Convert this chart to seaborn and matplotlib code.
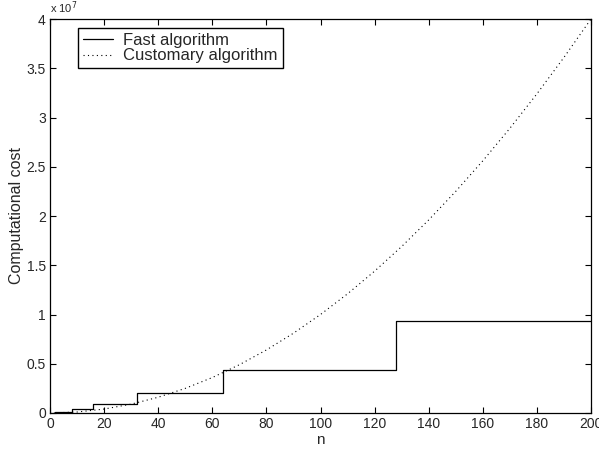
import numpy as np
import pandas as pd
import matplotlib
matplotlib.use("Agg")
import matplotlib.pyplot as plt
import seaborn as sns

# Fast algorithm: cost levels between successive power-of-two breakpoints
fast_n = [1, 2, 4, 8, 16, 32, 64, 128, 200]
fast_cost = [0.02e6, 0.06e6, 0.15e6, 0.41e6, 0.91e6, 2.0e6, 4.33e6, 9.34e6, 9.34e6]

# Customary algorithm: cost sampled along n
cust_n = [0, 10, 20, 30, 40, 50, 60, 70, 80, 90, 100, 110, 120, 130, 140,
          150, 160, 170, 180, 190, 200]
cust_cost = [0.0, 0.1e6, 0.4e6, 0.9e6, 1.6e6, 2.5e6, 3.6e6, 4.9e6, 6.4e6,
             8.1e6, 10.0e6, 12.1e6, 14.4e6, 16.9e6, 19.6e6, 22.5e6, 25.6e6,
             28.9e6, 32.4e6, 36.1e6, 40.0e6]

x_ticks = [0, 20, 40, 60, 80, 100, 120, 140, 160, 180, 200]
y_ticks = [0, 0.5e7, 1e7, 1.5e7, 2e7, 2.5e7, 3e7, 3.5e7, 4e7]
y_tick_labels = ["0", "0.5", "1", "1.5", "2", "2.5", "3", "3.5", "4"]

sns.set_style("ticks")
plt.rcParams["font.family"] = ["Liberation Sans", "DejaVu Sans"]
plt.rcParams["xtick.direction"] = "in"
plt.rcParams["ytick.direction"] = "in"

fast_df = pd.DataFrame({"n": fast_n, "cost": fast_cost})
cust_df = pd.DataFrame({"n": cust_n, "cost": cust_cost})

fig = plt.figure(figsize=(5.99, 4.51), dpi=100)
ax = fig.add_axes([50 / 599, 38 / 451, 541 / 599, 394 / 451])

sns.lineplot(data=fast_df, x="n", y="cost", ax=ax, color="black",
             linewidth=0.9, drawstyle="steps-post", label="Fast algorithm")
sns.lineplot(data=cust_df, x="n", y="cost", ax=ax, color="black",
             linewidth=0.8, linestyle=(0, (1, 3)), label="Customary algorithm")

ax.set_xlim(0, 200)
ax.set_ylim(0, 4e7)
ax.set_xticks(x_ticks)
ax.set_xticklabels([str(v) for v in x_ticks], fontsize=10)
ax.set_yticks(y_ticks)
ax.set_yticklabels(y_tick_labels, fontsize=10)
ax.tick_params(axis="both", which="both", top=True, right=True,
               length=4, width=0.8, color="black", pad=3)
for side in ["left", "right", "top", "bottom"]:
    ax.spines[side].set_visible(True)
    ax.spines[side].set_linewidth(0.9)
    ax.spines[side].set_color("black")

ax.set_xlabel("n", fontsize=11, labelpad=1)
ax.set_ylabel("Computational cost", fontsize=11.5, labelpad=1.5)
ax.text(0.0, 1.008, "x 10$^7$", transform=ax.transAxes, fontsize=8,
        ha="left", va="bottom")

leg = ax.legend(loc="upper left", bbox_to_anchor=(0.052, 0.977),
                fontsize=12, frameon=True, fancybox=False, shadow=False,
                framealpha=1, edgecolor="black", handlelength=1.8,
                handletextpad=0.6, borderpad=0.3, labelspacing=0.02,
                borderaxespad=0)
leg.get_frame().set_linewidth(1.0)

fig.savefig("out.png", dpi=100)
